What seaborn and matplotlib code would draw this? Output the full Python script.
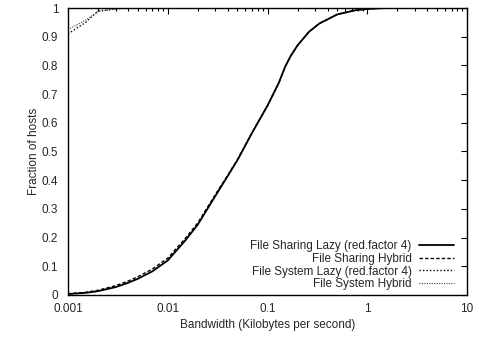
import matplotlib
matplotlib.use("Agg")
import matplotlib.pyplot as plt
import matplotlib.ticker as mticker
import seaborn as sns

# Bandwidth sample points (Kilobytes per second)
bw_sharing = [0.001, 0.0015, 0.002, 0.003, 0.004, 0.005, 0.007, 0.01, 0.015, 0.02,
              0.03, 0.04, 0.05, 0.07, 0.1, 0.13, 0.15, 0.17, 0.2, 0.26, 0.33, 0.5,
              0.75, 1.0, 1.5, 10]
sharing_lazy = [0.003, 0.007, 0.013, 0.027, 0.042, 0.056, 0.082, 0.12, 0.19, 0.245,
                0.345, 0.415, 0.47, 0.565, 0.66, 0.74, 0.795, 0.832, 0.87, 0.917, 0.946,
                0.978, 0.992, 0.997, 1.0, 1.0]
sharing_hybrid = [0.004, 0.009, 0.016, 0.032, 0.048, 0.063, 0.09, 0.128, 0.197, 0.251,
                  0.35, 0.418, 0.472, 0.566, 0.66, 0.74, 0.795, 0.832, 0.87, 0.917, 0.946,
                  0.978, 0.992, 0.997, 1.0, 1.0]

bw_system = [0.001, 0.0015, 0.002, 0.003, 0.004, 0.01, 10]
system_lazy = [0.91, 0.95, 0.99, 0.997, 1.0, 1.0, 1.0]
system_hybrid = [0.925, 0.958, 0.988, 0.997, 1.0, 1.0, 1.0]

sns.set_style("white")
plt.rcParams["font.family"] = ["Liberation Sans", "DejaVu Sans"]

fig = plt.figure(figsize=(4.79, 3.37), dpi=100)
ax = fig.add_axes([0.142, 0.125, 0.833, 0.851])

sns.lineplot(x=bw_sharing, y=sharing_lazy, ax=ax, color="black", linewidth=1.3,
             label="File Sharing Lazy (red.factor 4)")
sns.lineplot(x=bw_sharing, y=sharing_hybrid, ax=ax, color="black", linewidth=1.0,
             linestyle=(0, (2.5, 1.5)), label="File Sharing Hybrid")
sns.lineplot(x=bw_system, y=system_lazy, ax=ax, color="black", linewidth=1.0,
             linestyle=(0, (1, 1.5)), label="File System Lazy (red.factor 4)")
sns.lineplot(x=bw_system, y=system_hybrid, ax=ax, color="#444444", linewidth=0.8,
             linestyle=(0, (1, 1.2)), label="File System Hybrid")

ax.set_xscale("log")
ax.set_xlim(0.001, 10)
ax.set_ylim(0, 1)
ax.set_xticks([0.001, 0.01, 0.1, 1, 10])
ax.set_xticklabels(["0.001", "0.01", "0.1", "1", "10"])
ax.set_yticks([i / 10 for i in range(11)])
ax.set_yticklabels(["0", "0.1", "0.2", "0.3", "0.4", "0.5", "0.6", "0.7", "0.8", "0.9", "1"])
ax.xaxis.set_minor_locator(mticker.LogLocator(base=10, subs=range(2, 10), numticks=20))
ax.xaxis.set_minor_formatter(mticker.NullFormatter())

ax.tick_params(which="both", direction="in", top=True, right=True, labelsize=8.5,
               width=0.8, color="black")
ax.tick_params(axis="x", pad=6)
ax.tick_params(axis="y", pad=7)
ax.tick_params(which="major", length=4)
ax.tick_params(which="minor", length=2.5)
for s in ax.spines.values():
    s.set_linewidth(1.0)
    s.set_color("black")

ax.set_xlabel("Bandwidth (Kilobytes per second)", fontsize=8.5, labelpad=3)
ax.set_ylabel("Fraction of hosts", fontsize=8.5, labelpad=1)

leg = ax.legend(loc="lower right", frameon=False, fontsize=8.5, markerfirst=False,
                handlelength=3.0, labelspacing=0.05, handletextpad=0.6,
                borderaxespad=0.0, bbox_to_anchor=(0.98, 0.0))

plt.savefig("out.png", dpi=100)
